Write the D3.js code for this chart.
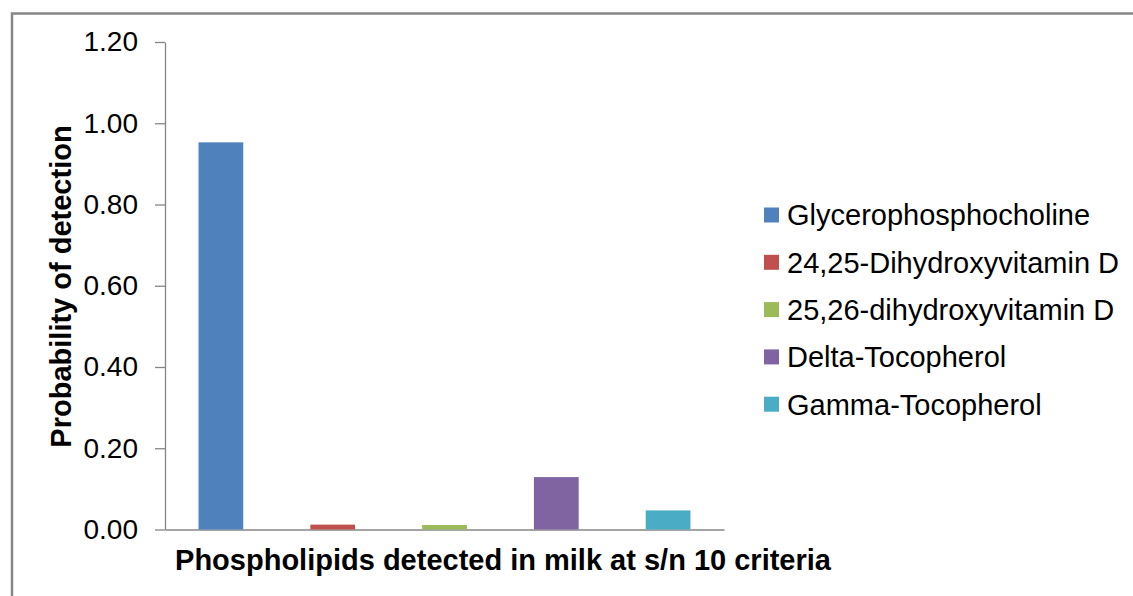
<!DOCTYPE html>
<html>
<head>
<meta charset="utf-8">
<script src="https://cdn.jsdelivr.net/npm/d3@7"></script>
<style>
  html, body { margin: 0; padding: 0; background: #fff; }
  svg { display: block; font-family: Arial, "Liberation Sans", sans-serif; }
</style>
</head>
<body>
<svg id="chart" width="1133" height="596"></svg>
<script>
// Compounds, their detection probabilities and series colours
const categories = [
  "Glycerophosphocholine",
  "24,25-Dihydroxyvitamin D",
  "25,26-dihydroxyvitamin D",
  "Delta-Tocopherol",
  "Gamma-Tocopherol"
];
const values = [0.953, 0.012, 0.011, 0.129, 0.047];
const colors = ["#4F81BD", "#C0504D", "#9BBB59", "#8064A2", "#4BACC6"];
const yTicks = [0, 0.2, 0.4, 0.6, 0.8, 1.0, 1.2];
const yTitle = "Probability of detection";
const xTitle = "Phospholipids detected in milk at s/n 10 criteria";

const svg = d3.select("#chart");
const plot = { left: 165, right: 724, top: 42, bottom: 529.5 };

// Chart-area frame
svg.append("rect")
  .attr("x", 12).attr("y", 13.5)
  .attr("width", 1140).attr("height", 600)
  .attr("fill", "none")
  .attr("stroke", "#868686")
  .attr("stroke-width", 2.5);

const x = d3.scaleBand()
  .domain(categories)
  .range([plot.left, plot.right])
  .paddingInner(0.6)
  .paddingOuter(0.3);

const y = d3.scaleLinear()
  .domain([0, 1.2])
  .range([plot.bottom, plot.top]);

// Y axis
const yAxis = svg.append("g")
  .attr("transform", `translate(${plot.left},0)`)
  .call(d3.axisLeft(y)
    .tickValues(yTicks)
    .tickFormat(d3.format(".2f"))
    .tickSizeInner(10)
    .tickSizeOuter(0)
    .tickPadding(17));
yAxis.select(".domain").attr("stroke", "#868686").attr("stroke-width", 1.3);
yAxis.selectAll(".tick line").attr("stroke", "#868686").attr("stroke-width", 1.3);
yAxis.selectAll(".tick text")
  .attr("fill", "#000")
  .style("font-size", "28px")
  .style("font-family", "Arial, 'Liberation Sans', sans-serif");

// X axis baseline
const xAxis = svg.append("g")
  .attr("transform", `translate(0,${plot.bottom})`)
  .call(d3.axisBottom(x).tickValues([]).tickSizeOuter(0));
xAxis.select(".domain").attr("stroke", "#868686").attr("stroke-width", 1.3);

// Bars
svg.append("g")
  .selectAll("rect")
  .data(categories)
  .join("rect")
  .attr("x", d => x(d))
  .attr("width", x.bandwidth())
  .attr("y", (d, i) => y(values[i]))
  .attr("height", (d, i) => y(0) - y(values[i]))
  .attr("fill", (d, i) => colors[i]);

// Axis titles
svg.append("text")
  .attr("transform", `translate(71,286.5) rotate(-90)`)
  .attr("text-anchor", "middle")
  .style("font-size", "29px")
  .style("font-weight", "bold")
  .text(yTitle);

svg.append("text")
  .attr("x", 503)
  .attr("y", 569.5)
  .attr("text-anchor", "middle")
  .style("font-size", "29px")
  .style("font-weight", "bold")
  .text(xTitle);

// Legend
const legend = svg.append("g")
  .selectAll("g")
  .data(categories)
  .join("g")
  .attr("transform", (d, i) => `translate(764,${215 + i * 47.3})`);
legend.append("rect")
  .attr("x", 0).attr("y", -7.5)
  .attr("width", 15).attr("height", 15)
  .attr("fill", (d, i) => colors[i]);
legend.append("text")
  .attr("x", 23)
  .attr("dy", "0.36em")
  .style("font-size", "29px")
  .text(d => d);
</script>
</body>
</html>
